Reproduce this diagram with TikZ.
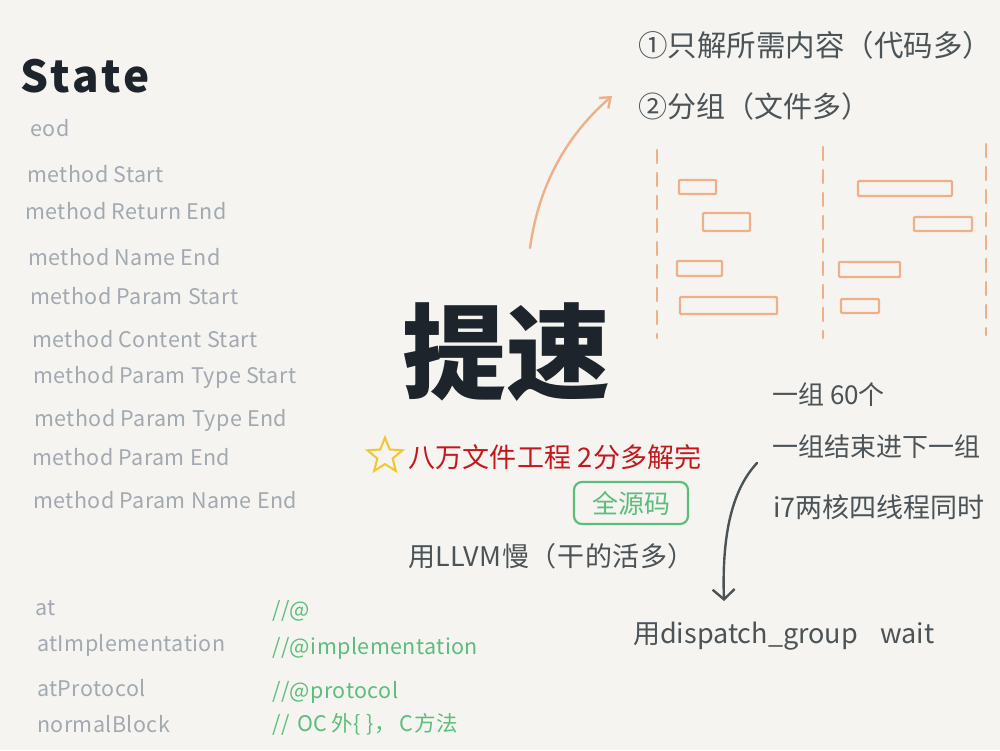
\documentclass[tikz,border=0pt]{standalone}
\usepackage{fontspec}
\setmainfont{Noto Sans CJK SC}
\usetikzlibrary{shapes.geometric,arrows.meta}
\definecolor{bg}{HTML}{F5F4F0}
\definecolor{stategray}{HTML}{A2A9B1}
\definecolor{inkdark}{HTML}{1E242B}
\definecolor{inkgray}{HTML}{4B5357}
\definecolor{inkred}{HTML}{C3171C}
\definecolor{inkgreen}{HTML}{5DBE7C}
\definecolor{inkorange}{HTML}{EEB088}
\definecolor{inkyellow}{HTML}{F2C62E}
\begin{document}
\begin{tikzpicture}[x=1pt,y=-1pt,
  statetxt/.style={anchor=west,inner sep=0pt,text=stategray,font=\fontsize{21.5}{23}\selectfont\addfontfeatures{LetterSpace=2}},
  greentxt/.style={anchor=west,inner sep=0pt,text=inkgreen,font=\fontsize{21.5}{23}\selectfont\addfontfeatures{LetterSpace=2}},
  notetxt/.style={anchor=west,inner sep=0pt,text=inkgray,font=\fontsize{26}{28}\selectfont},
  redtxt/.style={anchor=west,inner sep=0pt,text=inkred,font=\fontsize{27}{29}\selectfont\addfontfeatures{LetterSpace=1}},
  bar/.style={draw=inkorange,line width=2.4pt,rounded corners=1pt},
  lane/.style={draw=inkorange,line width=2.2pt,dash pattern=on 13pt off 10pt,line cap=round},
  pen/.style={line width=2.4pt,line cap=round}
]
\fill[bg] (0,0) rectangle (1000,750);
\useasboundingbox (0,0) rectangle (1000,750);

% State list
\node[anchor=west,inner sep=0pt,text=inkdark,font=\fontsize{44}{46}\selectfont\bfseries\addfontfeatures{LetterSpace=8}] (title) at (20,76) {State};
\node[statetxt] (s1) at (30,128) {eod};
\node[statetxt] (s2) at (27,174) {method Start};
\node[statetxt] (s3) at (25,211) {method Return End};
\node[statetxt] (s4) at (28,257) {method Name End};
\node[statetxt] (s5) at (30,296) {method Param Start};
\node[statetxt] (s6) at (32,339) {method Content Start};
\node[statetxt] (s7) at (33,377) {method Param Type Start};
\node[statetxt] (s8) at (34,420) {method Param Type End};
\node[statetxt] (s9) at (32,457) {method Param End};
\node[statetxt] (s10) at (33,500) {method Param Name End};

% bottom left
\node[statetxt] (a1) at (35,608) {at};
\node[statetxt] (a2) at (37,645) {atImplementation};
\node[statetxt] (a3) at (37,688) {atProtocol};
\node[statetxt] (a4) at (37,724) {normalBlock};
\node[greentxt] (c1) at (272,611) {//@};
\node[greentxt] (c2) at (272,648) {//@implementation};
\node[greentxt] (c3) at (272,692) {//@protocol};
\node[greentxt] (c4) at (272,724) {//\hspace{8pt}OC\hspace{4pt}外\{\hspace{6pt}\}，\hspace{4pt}C方法};

% center
\node[inner sep=0pt,text=inkdark,font=\fontsize{104}{106}\selectfont\bfseries] (speed) at (506,352) {提速};
\node[star,star points=5,star point ratio=2.3,draw=inkyellow,line width=2pt,minimum size=37pt,inner sep=0pt] (star) at (385,456) {};
\node[redtxt] (big) at (408,457) {八万文件工程 2分多解完};
\node[draw=inkgreen,line width=2.2pt,rounded corners=8pt,text=inkgreen,font=\fontsize{26}{28}\selectfont,minimum width=114pt,minimum height=42pt,inner sep=2pt] (src) at (631,503) {全源码};
\node[notetxt,font=\fontsize{27}{29}\selectfont\addfontfeatures{LetterSpace=2}] (llvm) at (408,556) {用LLVM慢（干的活多）};

% top right
\node[notetxt,font=\fontsize{29.5}{31}\selectfont] (p1) at (638,45) {①只解所需内容（代码多）};
\node[notetxt,font=\fontsize{29}{31}\selectfont] (p2) at (638,106) {②分组（文件多）};

\coordinate (arrA) at (530,248);
\coordinate (arrB) at (612,96);
\draw[pen,draw=inkorange,-{Straight Barb[length=9pt,width=14pt]}] (arrA) .. controls (540,175) and (575,128) .. (arrB);

% lanes
\draw[lane] (657,150) -- (657,338);
\draw[lane] (823,147) -- (823,338);
\draw[lane] (986,144) -- (986,335);
\draw[bar] (679,180) rectangle (716,194);
\draw[bar] (703,213) rectangle (750,231);
\draw[bar] (677,261) rectangle (722,276);
\draw[bar] (680,297) rectangle (777,314);
\draw[bar] (858,181) rectangle (952,196);
\draw[bar] (914,217) rectangle (972,231);
\draw[bar] (839,262) rectangle (900,277);
\draw[bar] (841,299) rectangle (879,313);

% right notes
\node[notetxt] (g1) at (772,395) {一组 60个};
\node[notetxt] (g2) at (772,447) {一组结束进下一组};
\node[notetxt,font=\fontsize{27}{29}\selectfont] (g3) at (773,507) {i7两核四线程同时};
\node[notetxt,font=\fontsize{27}{29}\selectfont] (disp) at (633,636) {用dispatch\_group\hspace{22pt}wait};

\coordinate (arrC) at (757,463);
\coordinate (arrD) at (724,601);
\draw[pen,draw=inkgray,-{Straight Barb[length=10pt,width=22pt]}] (arrC) .. controls (730,492) and (722,540) .. (arrD);
\end{tikzpicture}
\end{document}
